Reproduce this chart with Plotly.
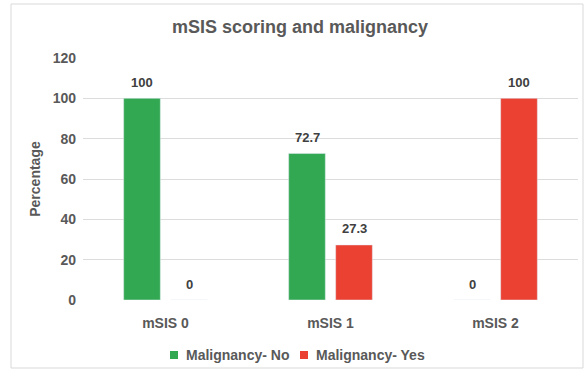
import plotly.graph_objects as go

categories = ["mSIS 0", "mSIS 1", "mSIS 2"]
malignancy_no = [100, 72.7, 0]
malignancy_yes = [0, 27.3, 100]
series_names = ["Malignancy- No", "Malignancy- Yes"]
y_ticks = [0, 20, 40, 60, 80, 100, 120]

GREEN = "#33A852"
RED = "#EA4133"
TXT = "#595959"
FONT = "Liberation Sans, Arial"

L, R, T, B = 83, 9, 58, 75
W, H = 587, 375
pw, ph = W - L - R, H - T - B


def px_x(p):
    return (p - L) / pw


def px_y(p):
    return (H - B - p) / ph


fig = go.Figure()
annotations = []
shapes = [dict(type="rect", xref="paper", yref="paper",
               x0=px_x(11), x1=px_x(583), y0=px_y(368), y1=px_y(4),
               line=dict(color="#d9d9d9", width=1), layer="below")]

series = [(series_names[0], malignancy_no, GREEN, -23.5, 170),
          (series_names[1], malignancy_yes, RED, 23.5, 300)]
LEG_Y = 355
for name, vals, col, shift, leg_x in series:
    fig.add_trace(go.Bar(x=categories, y=vals, name=name, marker_color=col,
                         showlegend=False))
    for c, v in zip(categories, vals):
        annotations.append(dict(x=c, y=v, xref="x", yref="y", text=f"{v:g}",
                                showarrow=False, xshift=shift, yshift=16,
                                yanchor="middle",
                                font=dict(family=FONT, size=13, color="#404040",
                                          weight="bold")))
    # manual legend entry
    shapes.append(dict(type="rect", xref="paper", yref="paper",
                       x0=px_x(leg_x), x1=px_x(leg_x + 8),
                       y0=px_y(LEG_Y + 4), y1=px_y(LEG_Y - 4),
                       fillcolor=col, line=dict(width=0)))
    annotations.append(dict(x=px_x(leg_x + 14), y=px_y(LEG_Y), xref="paper", yref="paper",
                            text=name, showarrow=False, xanchor="left", yanchor="middle",
                            font=dict(family=FONT, size=14, color=TXT, weight="bold")))

fig.update_layout(
    width=W, height=H,
    margin=dict(l=L, r=R, t=T, b=B, autoexpand=False),
    paper_bgcolor="white", plot_bgcolor="white",
    barmode="group", bargap=0.43, bargroupgap=0.22,
    font=dict(family=FONT, color=TXT),
    showlegend=False,
    title=dict(text="mSIS scoring and malignancy", x=300 / W, xanchor="center",
               y=1 - 27 / H, yanchor="middle",
               font=dict(size=18, color=TXT, weight="bold")),
    xaxis=dict(showgrid=False, showline=False, ticks="", ticklabelstandoff=13,
               automargin=False,
               tickfont=dict(size=14, color=TXT, weight="bold")),
    yaxis=dict(range=[0, 120], tickvals=y_ticks, showgrid=True, gridcolor="#dcdcdc",
               gridwidth=1, zeroline=False, showline=False, ticks="", automargin=False,
               tickfont=dict(size=14, color=TXT, weight="bold"), ticklabelstandoff=6,
               title=dict(text="Percentage", font=dict(size=14, color=TXT, weight="bold"),
                          standoff=8)),
    annotations=annotations,
    shapes=shapes,
)

fig.write_html("out.html")
